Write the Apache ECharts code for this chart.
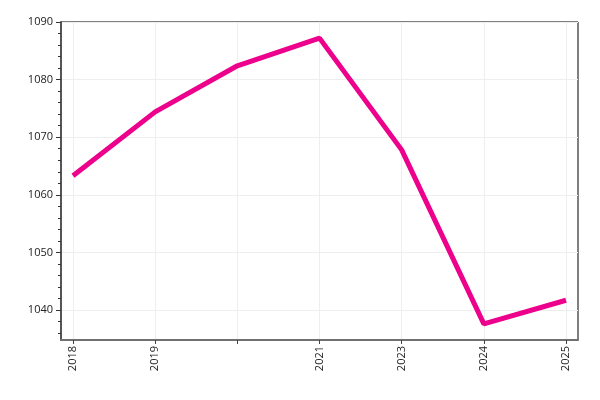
<!DOCTYPE html>
<html><head><meta charset="utf-8">
<script src="https://cdn.jsdelivr.net/npm/echarts@6/dist/echarts.min.js"></script>
<style>html,body{margin:0;padding:0;background:#fff}#c{width:600px;height:400px}</style>
</head><body><div id="c"></div>
<script>
const categories = ['2018', '2019', '', '2021', '2023', '2024', '2025'];
const values = [1063.3, 1074.4, 1082.4, 1087.2, 1067.8, 1037.6, 1041.7];
const yTicks = [1040, 1050, 1060, 1070, 1080, 1090];
const yMinorTicks = [1036, 1038, 1042, 1044, 1046, 1048, 1052, 1054, 1056, 1058, 1062, 1064, 1066, 1068, 1072, 1074, 1076, 1078, 1082, 1084, 1086, 1088];

const xIdx = categories.map((c, i) => i);
const chart = echarts.init(document.getElementById('c'));
const font = 'Open Sans';
chart.setOption({
  animation: false,
  grid: { left: 61, right: 22, top: 22, bottom: 60, show: true, borderColor: '#000', borderWidth: 1 },
  xAxis: {
    type: 'value', min: -0.146, max: 6.146,
    axisLine: { show: true, onZero: false, lineStyle: { color: '#707070', width: 2 } },
    axisTick: { show: true, customValues: xIdx, length: 4, lineStyle: { color: '#444' } },
    axisLabel: { customValues: xIdx, rotate: 90, color: '#222', fontFamily: font, fontSize: 11, margin: 6,
      formatter: v => categories[Math.round(v)] },
    splitLine: { show: true, lineStyle: { color: '#eeeeee' } }
  },
  yAxis: [{
    type: 'value', min: 1034.8, max: 1090,
    axisLine: { show: true, onZero: false, lineStyle: { color: '#555', width: 2 } },
    axisTick: { show: true, customValues: yTicks, length: 5, lineStyle: { color: '#333' } },
    axisLabel: { customValues: yTicks, color: '#222', fontFamily: font, fontSize: 11, margin: 8, formatter: v => String(v) },
    splitLine: { show: true, lineStyle: { color: '#eeeeee' } }
  }, {
    type: 'value', min: 1034.8, max: 1090, position: 'left', offset: 0,
    axisLine: { show: false, onZero: false },
    axisTick: { show: true, customValues: yMinorTicks, length: 3, lineStyle: { color: '#333' } },
    axisLabel: { show: false },
    splitLine: { show: false }
  }],
  series: [{
    type: 'line', data: values.map((v, i) => [xIdx[i], v]),
    showSymbol: false, lineStyle: { color: '#ec008c', width: 5 }, itemStyle: { color: '#ec008c' }
  }]
});
</script></body></html>
